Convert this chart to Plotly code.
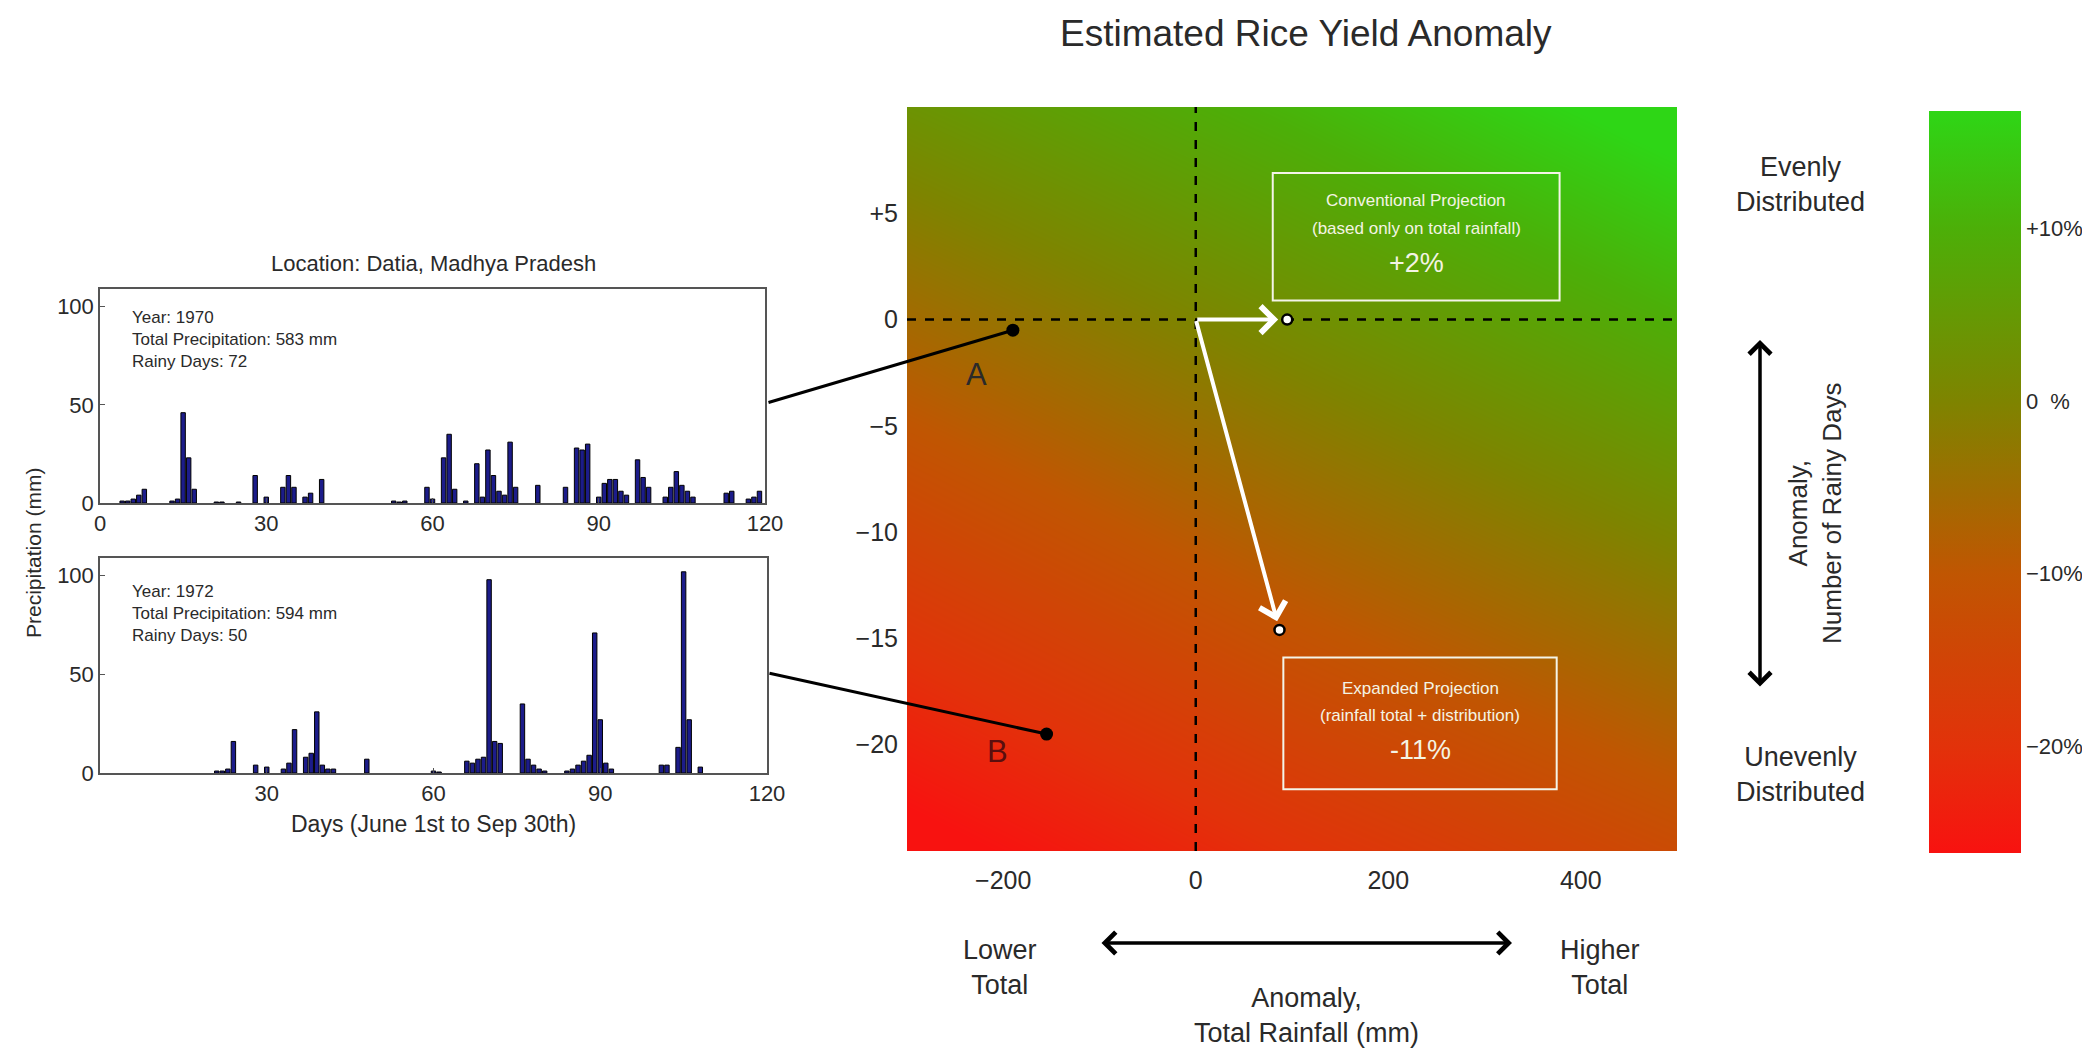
import plotly.graph_objects as go

W, H = 2090, 1059
OFF = 8  # page body margin

# ---------------- data ----------------
days_1970 = [4, 5, 6, 7, 8, 13, 14, 15, 16, 17, 21, 22, 25, 28, 30, 33, 34, 35, 37, 38, 40,
             53, 54, 55, 59, 60, 62, 63, 64, 66, 68, 69, 70, 71, 72, 73, 74, 75, 79, 84,
             86, 87, 88, 90, 91, 92, 93, 94, 95, 97, 98, 99, 102, 103, 104, 105, 106, 107,
             113, 114, 117, 118, 119]
precip_1970 = [1, 1, 2, 4, 7, 1, 2, 46, 23, 7, 0.5, 0.5, 0.5, 14, 3, 8, 14, 8, 3, 5, 12,
               1, 0.5, 1, 8, 2, 23, 35, 7, 1, 20, 3, 27, 14, 6, 4, 31, 8, 9, 8,
               28, 27, 30, 3, 10, 12, 12, 6, 4, 22, 13, 8, 3, 8, 16, 9, 6, 3,
               5, 6, 2, 3, 6]

days_1972 = [21, 22, 23, 24, 28, 30, 33, 34, 35, 37, 38, 39, 40, 41, 42, 48, 60, 61,
             66, 67, 68, 69, 70, 71, 72, 76, 77, 78, 79, 80, 84, 85, 86, 87, 88, 89, 90,
             91, 92, 101, 102, 104, 105, 106, 108]
precip_1972 = [1, 1, 2, 16, 4, 3, 2, 5, 22, 8, 10, 31, 4, 2, 2, 7, 1, 0.5,
               6, 5, 7, 8, 98, 16, 15, 35, 7, 4, 2, 1, 1, 2, 4, 6, 9, 71, 27,
               5, 2, 4, 4, 13, 102, 27, 3]

info_1970 = ["Year: 1970", "Total Precipitation: 583 mm", "Rainy Days: 72"]
info_1972 = ["Year: 1972", "Total Precipitation: 594 mm", "Rainy Days: 50"]

# yield anomaly surface (rainfall anomaly x rainy-day anomaly), sampled coarsely
rain_anom_grid = [-300, 100, 500]
days_anom_grid = [-25, -7.5, 10]
yield_grid = [[-28, -20, -13],
              [-12.5, -4.5, 3],
              [3.5, 11, 19]]

cs_vals = [-26.2, -20, -10, 0, 10, 16.8]
cs_colors = ["#f81210", "#e2320a", "#c05602", "#7e8400", "#4caf08", "#2ed616"]
cb_tickvals = [10, 0, -10, -20]
cb_ticktext = ["+10%", "0  %", "\u221210%", "\u221220%"]

x_ticks_main = [-200, 0, 200, 400]
y_ticks_main = [5, 0, -5, -10, -15, -20]
y_ticktext_main = ["+5", "0", "\u22125", "\u221210", "\u221215", "\u221220"]

point_a = (-190, -0.5)
point_b = (-155, -19.5)
conv_point = (95, 0)
exp_point = (87, -14.6)
conv_lines = ["Conventional Projection", "(based only on total rainfall)", "+2%"]
exp_lines = ["Expanded Projection", "(rainfall total + distribution)", "-11%"]

# ---------------- helpers ----------------
def px(x):
    return (x - OFF) / W

def py(y):
    return 1 - (y - OFF) / H

MX0, MX1, MY0, MY1 = 907, 1677, 107, 851
XR = [-300, 500]
YR = [-25, 10]

def pix_to_x3(p):
    return XR[0] + (p - MX0) / (MX1 - MX0) * (XR[1] - XR[0])

def pix_to_y3(p):
    return YR[1] - (p - MY0) / (MY1 - MY0) * (YR[1] - YR[0])

FONT = "Liberation Sans, Arial, sans-serif"
NARROW = "Liberation Sans Narrow, Arial Narrow, Liberation Sans, sans-serif"
TXT = "#2a2a2a"

fig = go.Figure()

# ---------------- bar charts ----------------
bar_style = dict(marker=dict(color="#1c1c8a", line=dict(color="#000000", width=1)),
                 width=0.8, showlegend=False, hoverinfo="skip")
fig.add_trace(go.Bar(x=days_1970, y=precip_1970, xaxis="x", yaxis="y", **bar_style))
fig.add_trace(go.Bar(x=days_1972, y=precip_1972, xaxis="x2", yaxis="y2", **bar_style))

# ---------------- heatmap ----------------
lo, hi = cs_vals[0], cs_vals[-1]
colorscale = [[(v - lo) / (hi - lo), c] for v, c in zip(cs_vals, cs_colors)]
fig.add_trace(go.Heatmap(
    x=rain_anom_grid, y=days_anom_grid, z=yield_grid,
    xaxis="x3", yaxis="y3", zsmooth="best",
    colorscale=colorscale, zmin=lo, zmax=hi, hoverinfo="skip",
    colorbar=dict(
        x=px(1929), xanchor="left", thickness=92, thicknessmode="pixels",
        y=py((111 + 853) / 2), yanchor="middle", len=(853 - 111) / H, lenmode="fraction",
        outlinewidth=0, xpad=0, ypad=0,
        tickvals=cb_tickvals, ticktext=cb_ticktext, ticks="",
        tickfont=dict(family=FONT, size=22, color=TXT),
    ),
))

# zero reference lines
fig.add_trace(go.Scatter(x=[0, 0], y=YR, xaxis="x3", yaxis="y3", mode="lines",
                         line=dict(color="#000000", width=2.5, dash="dash"),
                         showlegend=False, hoverinfo="skip"))
fig.add_trace(go.Scatter(x=XR, y=[0, 0], xaxis="x3", yaxis="y3", mode="lines",
                         line=dict(color="#000000", width=2.5, dash="dash"),
                         showlegend=False, hoverinfo="skip"))

# observed years
fig.add_trace(go.Scatter(x=[point_a[0], point_b[0]], y=[point_a[1], point_b[1]],
                         xaxis="x3", yaxis="y3", mode="markers",
                         marker=dict(color="#000000", size=13),
                         showlegend=False, hoverinfo="skip"))
# projections
fig.add_trace(go.Scatter(x=[conv_point[0], exp_point[0]], y=[conv_point[1], exp_point[1]],
                         xaxis="x3", yaxis="y3", mode="markers",
                         marker=dict(color="#ffffff", size=10, line=dict(color="#000000", width=2.5)),
                         showlegend=False, hoverinfo="skip"))

ann = []
shapes = []

def label(text, x, y, size, angle=0, family=FONT):
    ann.append(dict(text=text, x=px(x), y=py(y), xref="paper", yref="paper",
                    xanchor="center", yanchor="middle", showarrow=False, textangle=angle,
                    font=dict(family=family, size=size, color=TXT)))

label("Estimated Rice Yield Anomaly", 1306, 33, 37)
label("Location: Datia, Madhya Pradesh", 433, 263, 22)
label("Days (June 1st to Sep 30th)", 433, 824, 23)
label("Precipitation (mm)", 33, 553, 21, angle=-90)
label("Lower<br>Total", 1000, 967, 27)
label("Higher<br>Total", 1600, 967, 27)
label("Anomaly,<br>Total Rainfall (mm)", 1306, 1015, 27)
label("Evenly<br>Distributed", 1800, 185, 27)
label("Unevenly<br>Distributed", 1800, 774, 27)
label("Anomaly,<br>Number of Rainy Days", 1815, 513, 26, angle=-90)

for info, ytop in ((info_1970, 306), (info_1972, 580)):
    ann.append(dict(text="<br>".join(info), x=px(130), y=py(ytop), xref="paper", yref="paper",
                    xanchor="left", yanchor="top", align="left", showarrow=False,
                    font=dict(family=NARROW, size=17, color=TXT)))

# double-headed black arrows
ann.append(dict(text="", x=px(1512), y=py(943), xref="paper", yref="paper",
                ax=-412, ay=0, showarrow=True, arrowside="end+start",
                arrowhead=4, startarrowhead=4, arrowsize=1.2, startarrowsize=1.2,
                arrowwidth=3.5, arrowcolor="#000000"))
ann.append(dict(text="", x=px(1760), y=py(340), xref="paper", yref="paper",
                ax=0, ay=348, showarrow=True, arrowside="end+start",
                arrowhead=4, startarrowhead=4, arrowsize=1.2, startarrowsize=1.2,
                arrowwidth=3.5, arrowcolor="#000000"))

# connector lines from bar panels to points
ann.append(dict(text="", x=point_a[0], y=point_a[1], xref="x3", yref="y3",
                ax=pix_to_x3(767), ay=pix_to_y3(403), axref="x3", ayref="y3",
                showarrow=True, arrowhead=0, arrowwidth=3, arrowcolor="#000000"))
ann.append(dict(text="", x=point_b[0], y=point_b[1], xref="x3", yref="y3",
                ax=pix_to_x3(768), ay=pix_to_y3(673), axref="x3", ayref="y3",
                showarrow=True, arrowhead=0, arrowwidth=3, arrowcolor="#000000"))

# point letters
ann.append(dict(text="A", x=-228, y=-2.6, xref="x3", yref="y3", showarrow=False,
                font=dict(family=FONT, size=31, color="#2a2a2a")))
ann.append(dict(text="B", x=-206, y=-20.3, xref="x3", yref="y3", showarrow=False,
                font=dict(family=FONT, size=31, color="#5a0e0e")))

# white projection arrows
for pt in (conv_point, exp_point):
    ann.append(dict(text="", x=pt[0], y=pt[1], xref="x3", yref="y3",
                    ax=0, ay=0, axref="x3", ayref="y3", showarrow=True,
                    arrowhead=4, arrowsize=1.3, arrowwidth=4, arrowcolor="#ffffff",
                    standoff=9))

# projection boxes
def box(x0, x1, y0, y1, lines, ys):
    shapes.append(dict(type="rect", xref="x3", yref="y3", x0=x0, x1=x1, y0=y0, y1=y1,
                       line=dict(color="#f4f4e8", width=2), layer="above"))
    xc = (x0 + x1) / 2
    for i, (t, yy) in enumerate(zip(lines, ys)):
        ann.append(dict(text=t, x=xc, y=yy, xref="x3", yref="y3", showarrow=False,
                        font=dict(family=FONT, size=27 if i == 2 else 17, color="#f4f4e4")))

box(80, 378, 0.9, 6.9, conv_lines, [pix_to_y3(200), pix_to_y3(228), pix_to_y3(263)])
box(91, 375, -22.1, -15.9, exp_lines, [pix_to_y3(688), pix_to_y3(715), pix_to_y3(750)])

axis_common = dict(showline=True, mirror=True, linecolor="#555555", linewidth=1.5,
                   ticks="inside", ticklen=5, tickcolor="#555555", showgrid=False, zeroline=False,
                   tickfont=dict(family=FONT, size=22, color=TXT))

fig.update_layout(
    width=W, height=H,
    margin=dict(l=0, r=0, t=0, b=0, autoexpand=False),
    paper_bgcolor="#ffffff", plot_bgcolor="#ffffff",
    showlegend=False, bargap=0.2,
    xaxis=dict(domain=[px(100), px(765)], range=[0, 120], tickvals=[0, 30, 60, 90, 120],
               anchor="y", **axis_common),
    yaxis=dict(domain=[py(503), py(289)], range=[0, 109], tickvals=[0, 50, 100],
               anchor="x", **axis_common),
    xaxis2=dict(domain=[px(100), px(767)], range=[0, 120], tickvals=[30, 60, 90, 120],
                anchor="y2", **axis_common),
    yaxis2=dict(domain=[py(773), py(558)], range=[0, 109], tickvals=[0, 50, 100],
                anchor="x2", **axis_common),
    xaxis3=dict(domain=[px(MX0), px(MX1)], range=XR, tickvals=x_ticks_main, anchor="y3",
                showline=False, showgrid=False, zeroline=False, ticks="", ticklabelstandoff=12,
                tickfont=dict(family=FONT, size=25, color=TXT)),
    yaxis3=dict(domain=[py(MY1), py(MY0)], range=YR, tickvals=y_ticks_main, ticktext=y_ticktext_main,
                anchor="x3", showline=False, showgrid=False, zeroline=False, ticks="",
                ticklabelstandoff=8, tickfont=dict(family=FONT, size=25, color=TXT)),
    annotations=ann,
    shapes=shapes,
)

fig.write_html("out.html")
